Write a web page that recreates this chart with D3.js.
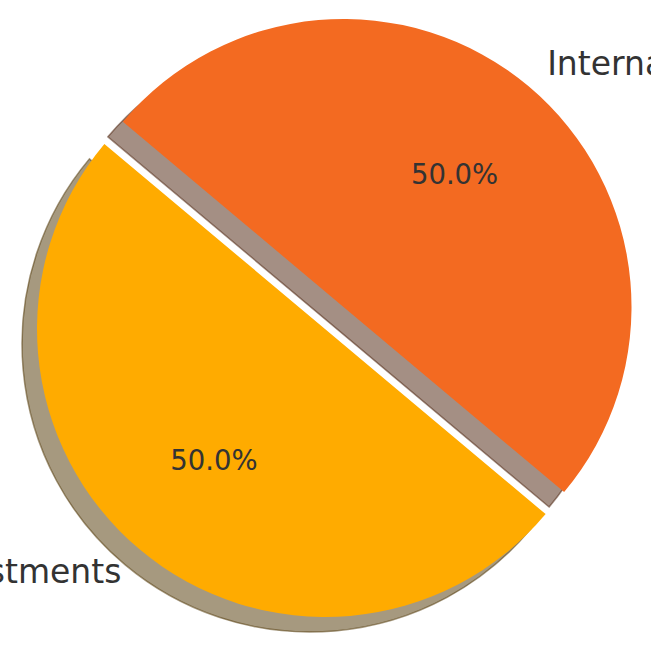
<!DOCTYPE html>
<html>
<head>
<meta charset="utf-8">
<script src="https://cdn.jsdelivr.net/npm/d3@7"></script>
<style>
  html, body { margin: 0; padding: 0; background: #ffffff; }
  svg { display: block; }
</style>
</head>
<body>
<div id="chart"></div>
<script>
// ---- data ----
const categories = ["International Investments", "Domestic Investments"];
const values = [50, 50];
const colors = ["#F36A21", "#FFAB00"];
const explode = [0.1, 0];

// ---- layout ----
const W = 651, H = 656;
const R = 288;
const center = [325, 329];
const shadowOffset = [-15, 15];
const deg = Math.PI / 180;

const svg = d3.select("#chart").append("svg")
  .attr("width", W).attr("height", H)
  .style("font-family", "'DejaVu Sans', sans-serif");

const pie = d3.pie().sort(null).value(d => d)
  .startAngle(-50 * deg).endAngle(310 * deg);
const arcs = pie(values);
const arc = d3.arc().innerRadius(0).outerRadius(R);

const total = d3.sum(values);

function dirOf(a) { const m = (a.startAngle + a.endAngle) / 2; return [Math.sin(m), -Math.cos(m)]; }
function centerOf(i) {
  const d = dirOf(arcs[i]);
  return [center[0] + explode[i] * R * d[0], center[1] + explode[i] * R * d[1]];
}

function darken(c) {
  const rgb = d3.rgb(c);
  return d3.rgb(rgb.r * 0.3, rgb.g * 0.3, rgb.b * 0.3).toString();
}

// shadows
const gShadow = svg.append("g");
arcs.forEach((a, i) => {
  const c = centerOf(i);
  const sc = darken(colors[i]);
  gShadow.append("path")
    .attr("d", arc(a))
    .attr("transform", `translate(${c[0] + shadowOffset[0]},${c[1] + shadowOffset[1]})`)
    .attr("fill", sc).attr("fill-opacity", 0.5)
    .attr("stroke", sc).attr("stroke-opacity", 0.5).attr("stroke-width", 1.5)
    .attr("stroke-linejoin", "miter");
});

// wedges
const gW = svg.append("g");
arcs.forEach((a, i) => {
  const c = centerOf(i);
  gW.append("path")
    .attr("d", arc(a))
    .attr("transform", `translate(${c[0]},${c[1]})`)
    .attr("fill", colors[i]);
});

// labels
arcs.forEach((a, i) => {
  const c = centerOf(i);
  const d = dirOf(a);
  const lx = c[0] + 1.1 * R * d[0], ly = c[1] + 1.1 * R * d[1];
  svg.append("text")
    .attr("x", lx).attr("y", ly).attr("dy", "0.33em")
    .attr("text-anchor", d[0] > 0 ? "start" : "end")
    .attr("font-size", 33).attr("fill", "#333333")
    .text(categories[i]);
  const px = c[0] + 0.6 * R * d[0], py = c[1] + 0.6 * R * d[1];
  svg.append("text")
    .attr("x", px).attr("y", py).attr("dy", "0.33em")
    .attr("text-anchor", "middle")
    .attr("font-size", 27.5).attr("fill", "#333333")
    .text(d3.format(".1f")(values[i] / total * 100) + "%");
});
</script>
</body>
</html>
